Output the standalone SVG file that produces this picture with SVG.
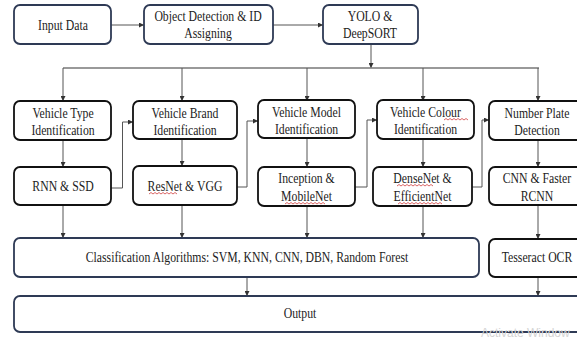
<svg xmlns="http://www.w3.org/2000/svg" width="577" height="339" viewBox="0 0 577 339">
<defs>
<marker id="ah" viewBox="0 0 8 8" refX="8" refY="4" markerWidth="5" markerHeight="5" orient="auto" markerUnits="userSpaceOnUse">
<path d="M0,0 L8,4 L0,8 Z" fill="#333"/>
</marker>
<style>
.bx{fill:#fff;stroke:#111;stroke-width:1.8}
.bb{fill:#fff;stroke:#2e3a55;stroke-width:1.8}
.t{font-size:14px;fill:#222;text-anchor:middle}
.c{fill:none;stroke:#555;stroke-width:1}
.d{fill:none;stroke:#777;stroke-width:1.6}
.w{fill:none;stroke:#d04040;stroke-width:0.8}
</style>
</defs>
<rect width="577" height="339" fill="#fff"/>
<g id="connectors">
<line class="c" x1="111" y1="25" x2="144" y2="25" marker-end="url(#ah)"/>
<line class="c" x1="273" y1="25" x2="323" y2="25" marker-end="url(#ah)"/>
<line class="c" x1="371" y1="44" x2="371" y2="68" marker-end="url(#ah)"/>
<line class="d" x1="63" y1="68" x2="539" y2="68"/>
<line class="c" x1="63" y1="68" x2="63" y2="101" marker-end="url(#ah)"/>
<line class="c" x1="182" y1="68" x2="182" y2="101" marker-end="url(#ah)"/>
<line class="c" x1="307" y1="68" x2="307" y2="101" marker-end="url(#ah)"/>
<line class="c" x1="423" y1="68" x2="423" y2="101" marker-end="url(#ah)"/>
<line class="c" x1="538" y1="68" x2="538" y2="101" marker-end="url(#ah)"/>
<line class="c" x1="63" y1="140" x2="63" y2="167" marker-end="url(#ah)"/>
<line class="c" x1="182" y1="139" x2="182" y2="166" marker-end="url(#ah)"/>
<line class="c" x1="307" y1="138" x2="307" y2="167" marker-end="url(#ah)"/>
<line class="c" x1="423" y1="139" x2="423" y2="167" marker-end="url(#ah)"/>
<line class="c" x1="538" y1="140" x2="538" y2="167" marker-end="url(#ah)"/>
<polyline class="c" points="111,188 122.5,188 122.5,122 133,122" marker-end="url(#ah)"/>
<polyline class="c" points="237,187 247,187 247,121 258,121" marker-end="url(#ah)"/>
<polyline class="c" points="355,187 367,187 367,120 377,120" marker-end="url(#ah)"/>
<polyline class="c" points="472,187 482,187 482,120 489,120" marker-end="url(#ah)"/>
<line class="c" x1="63" y1="205" x2="63" y2="238" marker-end="url(#ah)"/>
<line class="c" x1="182" y1="205" x2="182" y2="238" marker-end="url(#ah)"/>
<line class="c" x1="307" y1="206" x2="307" y2="238" marker-end="url(#ah)"/>
<line class="c" x1="423" y1="206" x2="423" y2="238" marker-end="url(#ah)"/>
<line class="c" x1="538" y1="206" x2="538" y2="239" marker-end="url(#ah)"/>
<line class="c" x1="247" y1="277" x2="247" y2="296" marker-end="url(#ah)"/>
<line class="c" x1="538" y1="277" x2="538" y2="296" marker-end="url(#ah)"/>
</g>
<g font-family="'Liberation Serif', serif">
<g id="input"><rect class="bb" x="14" y="5" width="97" height="39" rx="6"/><text class="t" transform="translate(63,0) scale(0.84,1)" y="30">Input Data</text></g>
<g id="detect"><rect class="bb" x="144" y="5" width="129" height="39" rx="6"/><text class="t" transform="translate(208,0) scale(0.84,1)" y="21">Object Detection &amp; ID</text><text class="t" transform="translate(208,0) scale(0.84,1)" y="38">Assigning</text></g>
<g id="yolo"><rect class="bb" x="323" y="5" width="95" height="39" rx="6"/><text class="t" transform="translate(370,0) scale(0.84,1)" y="21">YOLO &amp;</text><text class="t" transform="translate(370,0) scale(0.84,1)" y="38">DeepSORT</text></g>
<g id="vtype"><rect class="bx" x="14" y="101" width="97" height="39" rx="6"/><text class="t" transform="translate(63,0) scale(0.84,1)" y="118.5">Vehicle Type</text><text class="t" transform="translate(63,0) scale(0.84,1)" y="135">Identification</text></g>
<g id="vbrand"><rect class="bx" x="133" y="101" width="104" height="38" rx="6"/><text class="t" transform="translate(185,0) scale(0.84,1)" y="118.5">Vehicle Brand</text><text class="t" transform="translate(185,0) scale(0.84,1)" y="135">Identification</text></g>
<g id="vmodel"><rect class="bx" x="258" y="100" width="97" height="38" rx="6"/><text class="t" transform="translate(306.5,0) scale(0.84,1)" y="117.5">Vehicle Model</text><text class="t" transform="translate(306.5,0) scale(0.84,1)" y="134">Identification</text></g>
<g id="vcolour"><rect class="bx" x="377" y="100" width="97" height="39" rx="6"/><text class="t" transform="translate(425.5,0) scale(0.84,1)" y="117.5">Vehicle Colour</text><text class="t" transform="translate(425.5,0) scale(0.84,1)" y="134">Identification</text><path class="w" d="M444,120 l2,-1.5 l2,1.5 l2,-1.5 l2,1.5 l2,-1.5 l2,1.5 l2,-1.5 l2,1.5 l2,-1.5 l2,1.5 l2,-1.5 l2,1.5"/></g>
<g id="nplate"><rect class="bx" x="489" y="101" width="97" height="39" rx="6"/><text class="t" transform="translate(537,0) scale(0.84,1)" y="118.5">Number Plate</text><text class="t" transform="translate(537,0) scale(0.84,1)" y="135">Detection</text></g>
<g id="rnn"><rect class="bx" x="14" y="167" width="97" height="38" rx="6"/><text class="t" transform="translate(63,0) scale(0.84,1)" y="191">RNN &amp; SSD</text></g>
<g id="resnet"><rect class="bx" x="133" y="166" width="104" height="39" rx="6"/><text class="t" transform="translate(185,0) scale(0.84,1)" y="191">ResNet &amp; VGG</text><path class="w" d="M149,194 l2,-1.5 l2,1.5 l2,-1.5 l2,1.5 l2,-1.5 l2,1.5 l2,-1.5 l2,1.5 l2,-1.5 l2,1.5 l2,-1.5 l2,1.5 l2,-1.5 l2,1.5"/></g>
<g id="inception"><rect class="bx" x="258" y="167" width="97" height="39" rx="6"/><text class="t" transform="translate(306.5,0) scale(0.84,1)" y="183">Inception &amp;</text><text class="t" transform="translate(306.5,0) scale(0.84,1)" y="201">MobileNet</text><path class="w" d="M285,204 l2,-1.5 l2,1.5 l2,-1.5 l2,1.5 l2,-1.5 l2,1.5 l2,-1.5 l2,1.5 l2,-1.5 l2,1.5 l2,-1.5 l2,1.5 l2,-1.5 l2,1.5 l2,-1.5 l2,1.5 l2,-1.5 l2,1.5 l2,-1.5 l2,1.5"/></g>
<g id="densenet"><rect class="bx" x="373" y="167" width="99" height="39" rx="6"/><text class="t" transform="translate(422.5,0) scale(0.84,1)" y="183">DenseNet &amp;</text><text class="t" transform="translate(422.5,0) scale(0.84,1)" y="201">EfficientNet</text><path class="w" d="M397,186 l2,-1.5 l2,1.5 l2,-1.5 l2,1.5 l2,-1.5 l2,1.5 l2,-1.5 l2,1.5 l2,-1.5 l2,1.5 l2,-1.5 l2,1.5 l2,-1.5 l2,1.5 l2,-1.5 l2,1.5 l2,-1.5 l2,1.5 M398,204 l2,-1.5 l2,1.5 l2,-1.5 l2,1.5 l2,-1.5 l2,1.5 l2,-1.5 l2,1.5 l2,-1.5 l2,1.5 l2,-1.5 l2,1.5 l2,-1.5 l2,1.5 l2,-1.5 l2,1.5 l2,-1.5 l2,1.5 l2,-1.5 l2,1.5 l2,-1.5 l2,1.5"/></g>
<g id="cnn"><rect class="bx" x="489" y="167" width="97" height="38" rx="6"/><text class="t" transform="translate(537,0) scale(0.84,1)" y="183">CNN &amp; Faster</text><text class="t" transform="translate(537,0) scale(0.84,1)" y="201">RCNN</text></g>
<g id="classify"><rect class="bb" x="14" y="238" width="465" height="39" rx="6"/><text class="t" transform="translate(247,0) scale(0.84,1)" y="262.5">Classification Algorithms: SVM, KNN, CNN, DBN, Random Forest</text></g>
<g id="tesseract"><rect class="bx" x="489" y="239" width="97" height="38" rx="6"/><text class="t" transform="translate(537,0) scale(0.84,1)" y="262.5">Tesseract OCR</text></g>
<g id="output"><rect class="bb" x="14" y="296" width="572" height="36" rx="6"/><text class="t" transform="translate(300,0) scale(0.84,1)" y="318.5">Output</text></g>
</g>
<text x="481" y="337" font-family="'Liberation Sans', sans-serif" font-size="12" fill="#d4d4d4">Activate Window</text>
</svg>
